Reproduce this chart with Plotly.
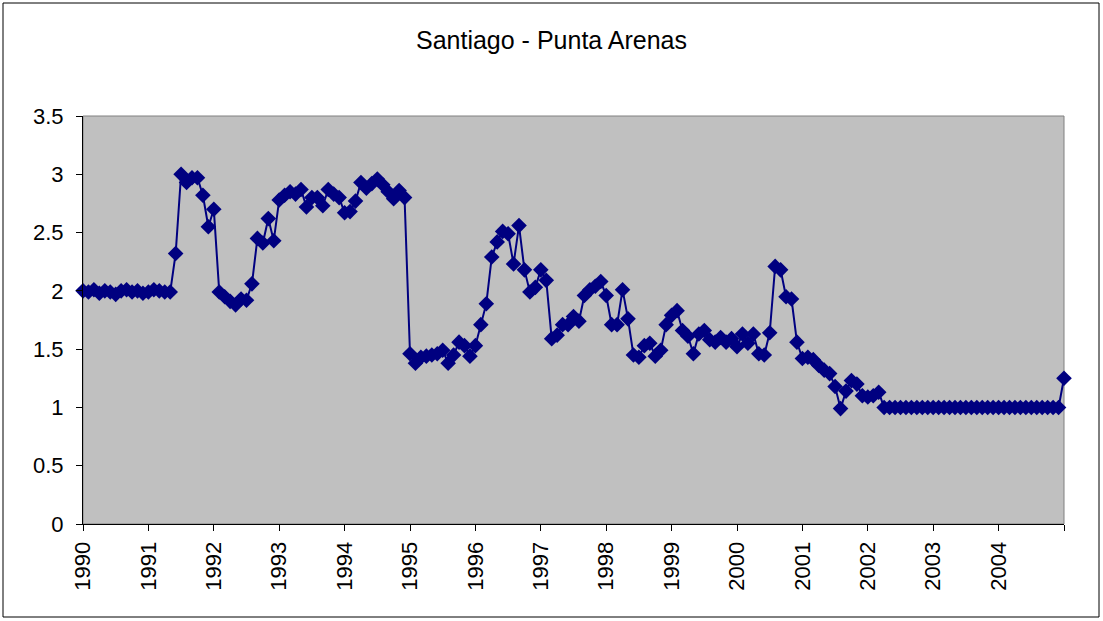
import plotly.graph_objects as go

# Monthly series, January 1990 to January 2005
values = [
    # 1990
    2.00, 1.99, 2.01, 1.98, 2.00, 1.99, 1.97, 2.00, 2.01, 1.99, 2.00, 1.98,
    # 1991
    1.99, 2.01, 2.00, 1.99, 1.99, 2.32, 3.00, 2.93, 2.97, 2.97, 2.82, 2.55,
    # 1992
    2.70, 1.99, 1.95, 1.91, 1.88, 1.93, 1.92, 2.06, 2.45, 2.41, 2.62, 2.43,
    # 1993
    2.78, 2.82, 2.85, 2.83, 2.87, 2.72, 2.80, 2.80, 2.73, 2.87, 2.83, 2.80,
    # 1994
    2.67, 2.68, 2.77, 2.93, 2.88, 2.92, 2.96, 2.91, 2.85, 2.79, 2.86, 2.80,
    # 1995
    1.46, 1.38, 1.43, 1.44, 1.45, 1.46, 1.49, 1.38, 1.45, 1.56, 1.53, 1.44,
    # 1996
    1.53, 1.71, 1.89, 2.29, 2.42, 2.51, 2.49, 2.23, 2.56, 2.18, 1.99, 2.03,
    # 1997
    2.18, 2.09, 1.59, 1.62, 1.71, 1.71, 1.78, 1.74, 1.96, 2.01, 2.04, 2.08,
    # 1998
    1.96, 1.71, 1.71, 2.01, 1.76, 1.45, 1.43, 1.53, 1.55, 1.44, 1.49, 1.71,
    # 1999
    1.79, 1.83, 1.66, 1.61, 1.46, 1.63, 1.66, 1.58, 1.56, 1.60, 1.56, 1.59,
    # 2000
    1.52, 1.63, 1.55, 1.63, 1.46, 1.45, 1.64, 2.21, 2.18, 1.95, 1.93, 1.56,
    # 2001
    1.42, 1.43, 1.41, 1.36, 1.32, 1.29, 1.18, 0.99, 1.14, 1.23, 1.20, 1.10,
    # 2002
    1.09, 1.10, 1.13, 1.00, 1.00, 1.00, 1.00, 1.00, 1.00, 1.00, 1.00, 1.00,
    # 2003
    1.00, 1.00, 1.00, 1.00, 1.00, 1.00, 1.00, 1.00, 1.00, 1.00, 1.00, 1.00,
    # 2004
    1.00, 1.00, 1.00, 1.00, 1.00, 1.00, 1.00, 1.00, 1.00, 1.00, 1.00, 1.00,
    # 2005
    1.25,
]
years = ["1990", "1991", "1992", "1993", "1994", "1995", "1996", "1997",
         "1998", "1999", "2000", "2001", "2002", "2003", "2004"]
title_text = "Santiago - Punta Arenas"

months = list(range(len(values)))
navy = "#000080"
font_family = "Liberation Sans, Arial, sans-serif"

fig = go.Figure()
fig.add_trace(go.Scatter(
    x=months, y=values, mode="lines+markers",
    line=dict(color=navy, width=2),
    marker=dict(symbol="diamond", size=12, color=navy),
    cliponaxis=False,
    showlegend=False, hoverinfo="x+y",
))

tickvals = [12 * k for k in range(len(years) + 1)]
ticktext = years + [""]

W, H = 1103, 621
L, R, T, B = 83, 39, 116, 97
pw, ph = W - L - R, H - T - B

def px_x(p):
    return (p - L) / pw

def px_y(p):
    return (H - B - p) / ph

fig.update_layout(
    width=W, height=H,
    margin=dict(l=L, r=R, t=T, b=B),
    paper_bgcolor="white",
    plot_bgcolor="#C0C0C0",
    font=dict(family=font_family, color="black", size=22),
    title=dict(text=title_text, x=0.5, xanchor="center", xref="container",
               y=1 - 40 / H, yanchor="middle",
               font=dict(size=25, family=font_family, color="black")),
    xaxis=dict(
        range=[0, len(values) - 1], tickmode="array", tickvals=tickvals,
        ticktext=ticktext, tickangle=-90, ticks="outside", ticklen=6,
        tickcolor="black", showgrid=False, zeroline=False,
        showline=True, linecolor="black", linewidth=1,
        tickfont=dict(size=22), ticklabelstandoff=2,
    ),
    yaxis=dict(
        range=[0, 3.5], dtick=0.5, tick0=0, ticks="outside", ticklen=6,
        tickcolor="black", showgrid=False, zeroline=False,
        showline=True, linecolor="black", linewidth=1,
        tickfont=dict(size=22), ticklabelstandoff=8,
    ),
    shapes=[
        # plot-area frame
        dict(type="rect", xref="paper", yref="paper", x0=0, y0=0, x1=1, y1=1,
             line=dict(color="#808080", width=1), layer="below"),
        # outer chart border
        dict(type="rect", xref="paper", yref="paper",
             x0=px_x(3), x1=px_x(1099), y0=px_y(617), y1=px_y(3),
             line=dict(color="black", width=1)),
    ],
)

fig.write_html("out.html")
